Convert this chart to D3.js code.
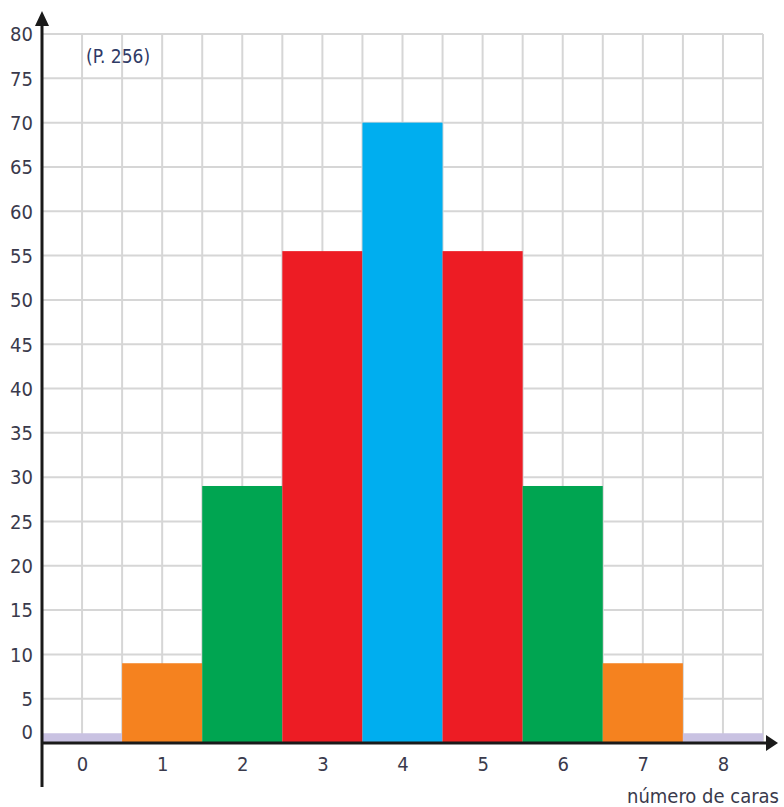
<!DOCTYPE html>
<html>
<head>
<meta charset="utf-8">
<script src="https://cdn.jsdelivr.net/npm/d3@7"></script>
<style>
  html, body { margin: 0; padding: 0; background: #ffffff; }
  svg { display: block; }
  .lbl { font-family: "Liberation Sans Narrow", "DejaVu Sans Condensed", "Roboto", sans-serif; }
</style>
</head>
<body>
<svg id="chart" width="784" height="807"></svg>
<script>
// ---- data ----
const categories = [0, 1, 2, 3, 4, 5, 6, 7, 8];
const values = [1.1, 9, 29, 55.5, 70, 55.5, 29, 9, 1.1];
const barColors = ["#c9c2e2", "#f5821f", "#00a551", "#ed1c24", "#00aeef", "#ed1c24", "#00a551", "#f5821f", "#c9c2e2"];
const yTicks = [0, 5, 10, 15, 20, 25, 30, 35, 40, 45, 50, 55, 60, 65, 70, 75, 80];
const xLabel = "número de caras";
const note = "(P. 256)";

const svg = d3.select("#chart");
const x = d3.scaleLinear().domain([-0.5, 8.5]).range([42, 763]);
const y = d3.scaleLinear().domain([0, 80]).range([743, 34]);

// grid
const vGrid = d3.range(-0.5, 8.5 + 0.001, 0.5).slice(1);
svg.append("g").selectAll("line").data(vGrid).join("line")
  .attr("x1", d => x(d)).attr("x2", d => x(d))
  .attr("y1", y(0)).attr("y2", y(80))
  .attr("stroke", "#d6d6d6").attr("stroke-width", 2);
svg.append("g").selectAll("line").data(yTicks.filter(d => d > 0)).join("line")
  .attr("x1", x(-0.5)).attr("x2", x(8.5))
  .attr("y1", d => y(d)).attr("y2", d => y(d))
  .attr("stroke", "#d6d6d6").attr("stroke-width", 2);

// bars
svg.append("g").selectAll("rect").data(categories).join("rect")
  .attr("x", (d) => x(d - 0.5))
  .attr("width", (d) => x(d + 0.5) - x(d - 0.5))
  .attr("y", (d, i) => y(values[i]))
  .attr("height", (d, i) => y(0) - y(values[i]))
  .attr("fill", (d, i) => barColors[i]);

// y axis labels
const yAxis = d3.axisLeft(y).tickValues(yTicks).tickSize(0).tickPadding(9);
const gy = svg.append("g").attr("transform", `translate(${x(-0.5)},0)`).call(yAxis);
gy.select(".domain").remove();
gy.selectAll("text")
  .attr("class", "lbl")
  .attr("font-size", 20)
  .attr("fill", "#3a3a4c")
  .attr("dy", d => d === 0 ? "-0.22em" : "0.34em");

// x axis labels
const xAxis = d3.axisBottom(x).tickValues(categories).tickSize(0).tickPadding(14).tickFormat(d3.format("d"));
const gx = svg.append("g").attr("transform", `translate(0,${y(0)})`).call(xAxis);
gx.select(".domain").remove();
gx.selectAll("text")
  .attr("class", "lbl")
  .attr("font-size", 20)
  .attr("fill", "#3a3a4c");

// axes lines
svg.append("line")
  .attr("x1", x(-0.5)).attr("x2", 768)
  .attr("y1", y(0)).attr("y2", y(0))
  .attr("stroke", "#1a1a1a").attr("stroke-width", 3);
svg.append("path")
  .attr("d", `M778,${y(0)} L766,${y(0) - 8} L766,${y(0) + 8} Z`)
  .attr("fill", "#1a1a1a");
svg.append("line")
  .attr("x1", x(-0.5)).attr("x2", x(-0.5))
  .attr("y1", 787).attr("y2", 22)
  .attr("stroke", "#1a1a1a").attr("stroke-width", 3);
svg.append("path")
  .attr("d", `M${x(-0.5)},11 L${x(-0.5) - 7},26 L${x(-0.5) + 7},26 Z`)
  .attr("fill", "#1a1a1a");

// texts
svg.append("text").attr("class", "lbl")
  .attr("x", 86).attr("y", 63)
  .attr("font-size", 19).attr("fill", "#2f3a66")
  .text(note);
svg.append("text").attr("class", "lbl")
  .attr("x", 779).attr("y", 803).attr("text-anchor", "end")
  .attr("font-size", 20).attr("fill", "#3a3a4c")
  .text(xLabel);
</script>
</body>
</html>
